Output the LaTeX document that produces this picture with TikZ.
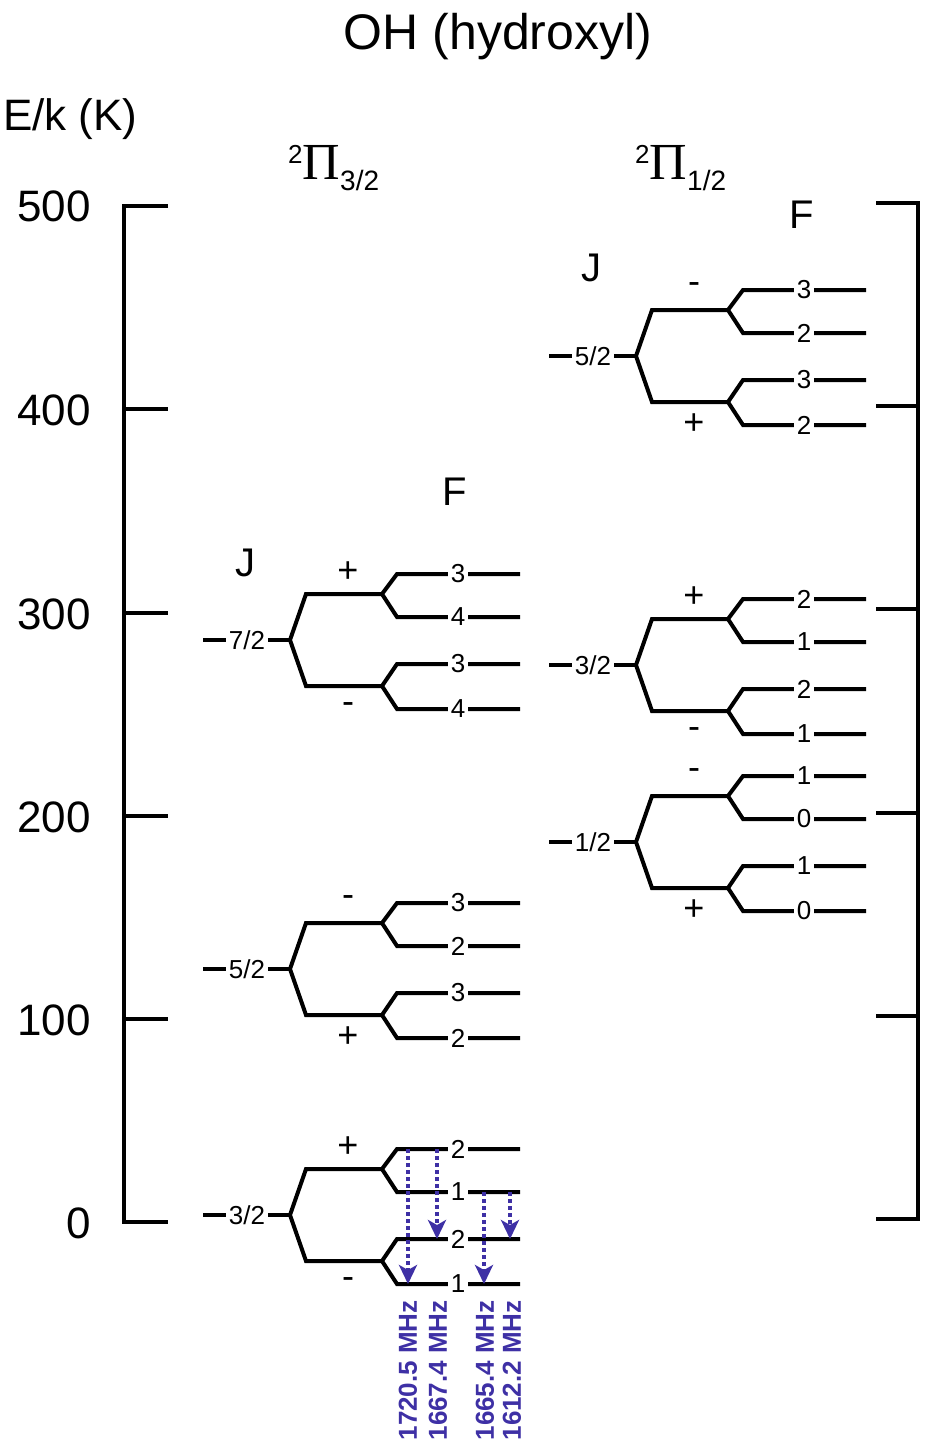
\documentclass[tikz,border=0pt]{standalone}
\usepackage{fontspec}
\setmainfont{Liberation Sans}
\newfontfamily\serifpi{Liberation Serif}
\usetikzlibrary{arrows.meta}
\definecolor{trblue}{RGB}{62,48,165}
\newcommand\fs[1]{\fontsize{#1}{#1}\selectfont}
\tikzset{
  lev/.style={line width=4pt, line join=miter},
  axisline/.style={line width=4pt},
  flab/.style={fill=white, inner sep=2.5pt, font=\fs{26}},
  jlab/.style={fill=white, inner sep=2.5pt, font=\fs{26}},
  sgn/.style={inner sep=0pt, font=\fs{36}},
  bigtxt/.style={inner sep=0pt, font=\fs{44}},
  hdr/.style={inner sep=0pt, font=\fs{40}},
  trans/.style={trblue, line width=4pt, dash pattern=on 4pt off 3pt,
    -{Stealth[length=19pt, width=18pt, inset=5pt]}},
  freq/.style={trblue, inner sep=0pt, font=\fs{26}\bfseries, rotate=90, anchor=east},
}
\newcommand\Jlev[8]{%
\begin{scope}[shift={(#2,#3)}]
  \draw[lev] (230,-66) -- (107,-66) -- (92,-46) -- (107,-23) -- (230,-23);
  \draw[lev] (92,-46) -- (16,-46) -- (0,0) -- (16,46) -- (92,46);
  \draw[lev] (230,24) -- (107,24) -- (92,46) -- (107,69) -- (230,69);
  \draw[lev] (-87,0) -- (0,0);
  \node[jlab] (#1J) at (-43,0) {#4};
  \node[sgn] (#1up) at (58,-68) {#5};
  \node[sgn] (#1lo) at (58,68) {#6};
  \node[flab] (#1a) at (168,-66) {#7};
  \node[flab] (#1b) at (168,-23) {#8};
  \node[flab] (#1c) at (168,24) {#7};
  \node[flab] (#1d) at (168,69) {#8};
\end{scope}}
\begin{document}
\begin{tikzpicture}[x=1pt, y=-1pt]
\useasboundingbox (0,0) rectangle (925,1442);
% title and headers
\node[inner sep=0pt, font=\fs{50}, anchor=base] (title) at (498,50) {OH (hydroxyl)};
\node[bigtxt, anchor=base west] (ek) at (3,131) {E/k (K)};
\node[inner sep=0pt, anchor=base west] (pi32) at (288,180)
  {\raisebox{17pt}{\fs{26}2}{\serifpi\fs{52}Π}\raisebox{-10pt}{\fs{28}3/2}};
\node[inner sep=0pt, anchor=base west] (pi12) at (635,180)
  {\raisebox{17pt}{\fs{26}2}{\serifpi\fs{52}Π}\raisebox{-10pt}{\fs{28}1/2}};
\node[hdr] (JL) at (245,563) {J};
\node[hdr] (FL) at (455,492) {F};
\node[hdr] (JR) at (591,268) {J};
\node[hdr] (FR) at (802,215) {F};
% left axis
\draw[axisline] (168,206) -- (124,206) -- (124,1222) -- (168,1222);
\foreach \yy in {409,613,816,1019} \draw[axisline] (124,\yy) -- (168,\yy);
\node[bigtxt, anchor=base east] (a500) at (91,222) {500};
\node[bigtxt, anchor=base east] (a400) at (91,425) {400};
\node[bigtxt, anchor=base east] (a300) at (91,629) {300};
\node[bigtxt, anchor=base east] (a200) at (91,832) {200};
\node[bigtxt, anchor=base east] (a100) at (91,1035) {100};
\node[bigtxt, anchor=base east] (a0) at (91,1238) {0};
% right axis
\draw[axisline] (876,203) -- (918,203) -- (918,1219) -- (876,1219);
\foreach \yy in {406,609,813,1016} \draw[axisline] (876,\yy) -- (918,\yy);
% levels
\Jlev{LA}{290}{640}{7/2}{+}{-}{3}{4}
\Jlev{LB}{290}{969}{5/2}{-}{+}{3}{2}
\Jlev{LC}{290}{1215}{3/2}{+}{-}{2}{1}
\Jlev{RA}{636}{356}{5/2}{-}{+}{3}{2}
\Jlev{RB}{636}{665}{3/2}{+}{-}{2}{1}
\Jlev{RC}{636}{842}{1/2}{-}{+}{1}{0}
% transitions
\coordinate (t1s) at (408,1149); \coordinate (t1e) at (408,1284);
\coordinate (t2s) at (437,1149); \coordinate (t2e) at (437,1239);
\coordinate (t3s) at (484,1192); \coordinate (t3e) at (484,1284);
\coordinate (t4s) at (510,1192); \coordinate (t4e) at (510,1239);
\draw[trans] (t1s) -- (t1e);
\draw[trans] (t2s) -- (t2e);
\draw[trans] (t3s) -- (t3e);
\draw[trans] (t4s) -- (t4e);
\node[freq] (f1) at (408,1300) {1720.5 MHz};
\node[freq] (f2) at (438,1300) {1667.4 MHz};
\node[freq] (f3) at (485,1300) {1665.4 MHz};
\node[freq] (f4) at (512,1300) {1612.2 MHz};
\end{tikzpicture}
\end{document}
